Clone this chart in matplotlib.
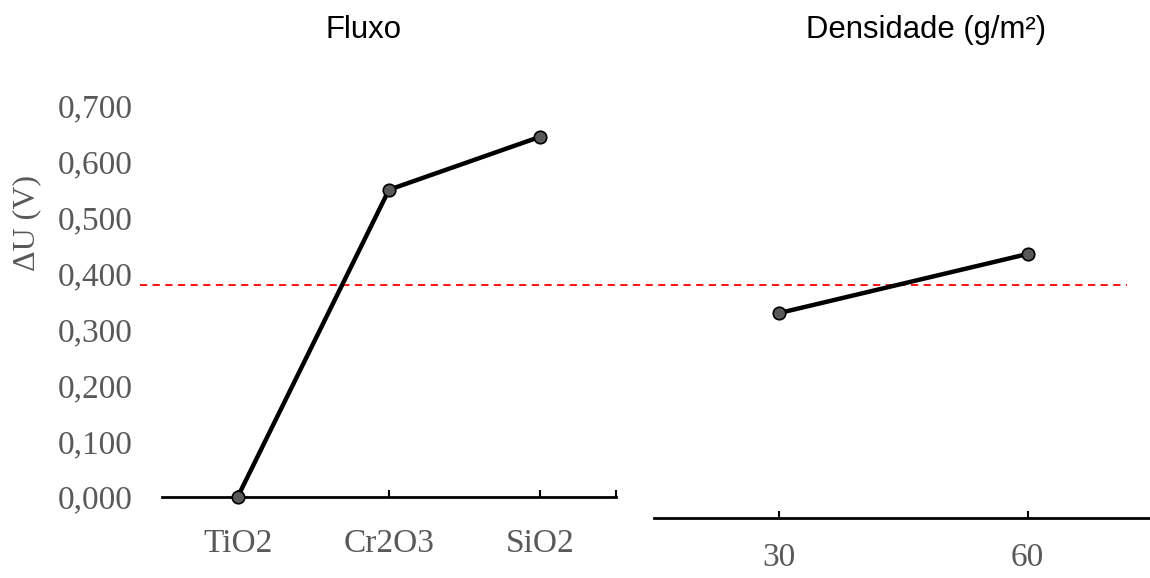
import matplotlib
matplotlib.use('Agg')
import matplotlib.pyplot as plt
from matplotlib.transforms import blended_transform_factory

# data
fluxo_cats = ['TiO2', 'Cr2O3', 'SiO2']
fluxo_vals = [0.000, 0.550, 0.645]
dens_cats = ['30', '60']
dens_vals = [0.329, 0.435]
ref_level = 0.380
yticks = [0.0, 0.1, 0.2, 0.3, 0.4, 0.5, 0.6, 0.7]

W, H = 1150, 578
fig = plt.figure(figsize=(W/100, H/100), dpi=100)
fig.patch.set_facecolor('white')

grey = '#595959'
serif = ['Liberation Serif', 'DejaVu Serif']
sans = ['Liberation Sans', 'DejaVu Sans']
fs = 24

def px(x0, y0, x1, y1):
    # pixel box (top-left origin) -> figure fraction
    return [x0/W, 1 - y1/H, (x1-x0)/W, (y1-y0)/H]

ymax = 0.75
scale = 55.86  # px per 0.1

# left panel
top = 497 - ymax*10*scale
axL = fig.add_axes(px(162, top, 616, 497))
axL.set_ylim(0, ymax)
axL.set_xlim(-0.5, 2.5)
axL.plot(range(len(fluxo_cats)), fluxo_vals, color='black', lw=3.2,
         marker='o', ms=9, mfc=grey, mec='black', mew=1.2, clip_on=False, zorder=5)
axL.set_xticks([0, 1, 2, 2.5])
axL.set_xticklabels(fluxo_cats + [''])
axL.set_yticks(yticks)
axL.yaxis.set_major_formatter(matplotlib.ticker.FuncFormatter(lambda v, p: ('%.3f' % v).replace('.', ',')))

# right panel
bottom_val = -21/(10*scale)
axR = fig.add_axes(px(654, top, 1152, 518))
axR.set_ylim(bottom_val, ymax)
axR.set_xlim(-0.5, 1.5)
axR.plot(range(len(dens_cats)), dens_vals, color='black', lw=3.2,
         marker='o', ms=9, mfc=grey, mec='black', mew=1.2, clip_on=False, zorder=5)
axR.set_xticks(range(len(dens_cats)))
axR.set_xticklabels(dens_cats)
axR.set_yticks([])

for ax, pad in ((axL, 23), (axR, 18)):
    for s in ('top', 'right', 'left'):
        ax.spines[s].set_visible(False)
    ax.spines['bottom'].set_linewidth(2)
    ax.patch.set_alpha(0)
    ax.tick_params(axis='x', direction='in', length=5, width=1.5, pad=pad,
                   labelsize=fs, labelcolor=grey)
    for t in ax.get_xticklabels():
        t.set_family(serif)
axL.tick_params(axis='y', length=0, pad=21, labelsize=fs, labelcolor=grey)
for t in axL.get_yticklabels():
    t.set_family(serif)

# reference line spanning both panels
tr = blended_transform_factory(fig.transFigure, axL.transData)
axL.plot([140/W, 1127/W], [ref_level, ref_level], transform=tr, color='red',
         lw=1.3, ls=(0, (4, 3)), clip_on=False, zorder=3)

fig.text(363.5/W, 1 - 38/H, 'Fluxo', ha='center', va='baseline', fontsize=22.4,
         family=sans, color='black')
fig.text(926.5/W, 1 - 38/H, 'Densidade (g/m²)', ha='center', va='baseline',
         fontsize=22.4, family=sans, color='black')
fig.text(27/W, 1 - 223/H, 'ΔU (V)', rotation=90, ha='center', va='center',
         fontsize=23, family=serif, color=grey)

fig.savefig('out.png', dpi=100)
